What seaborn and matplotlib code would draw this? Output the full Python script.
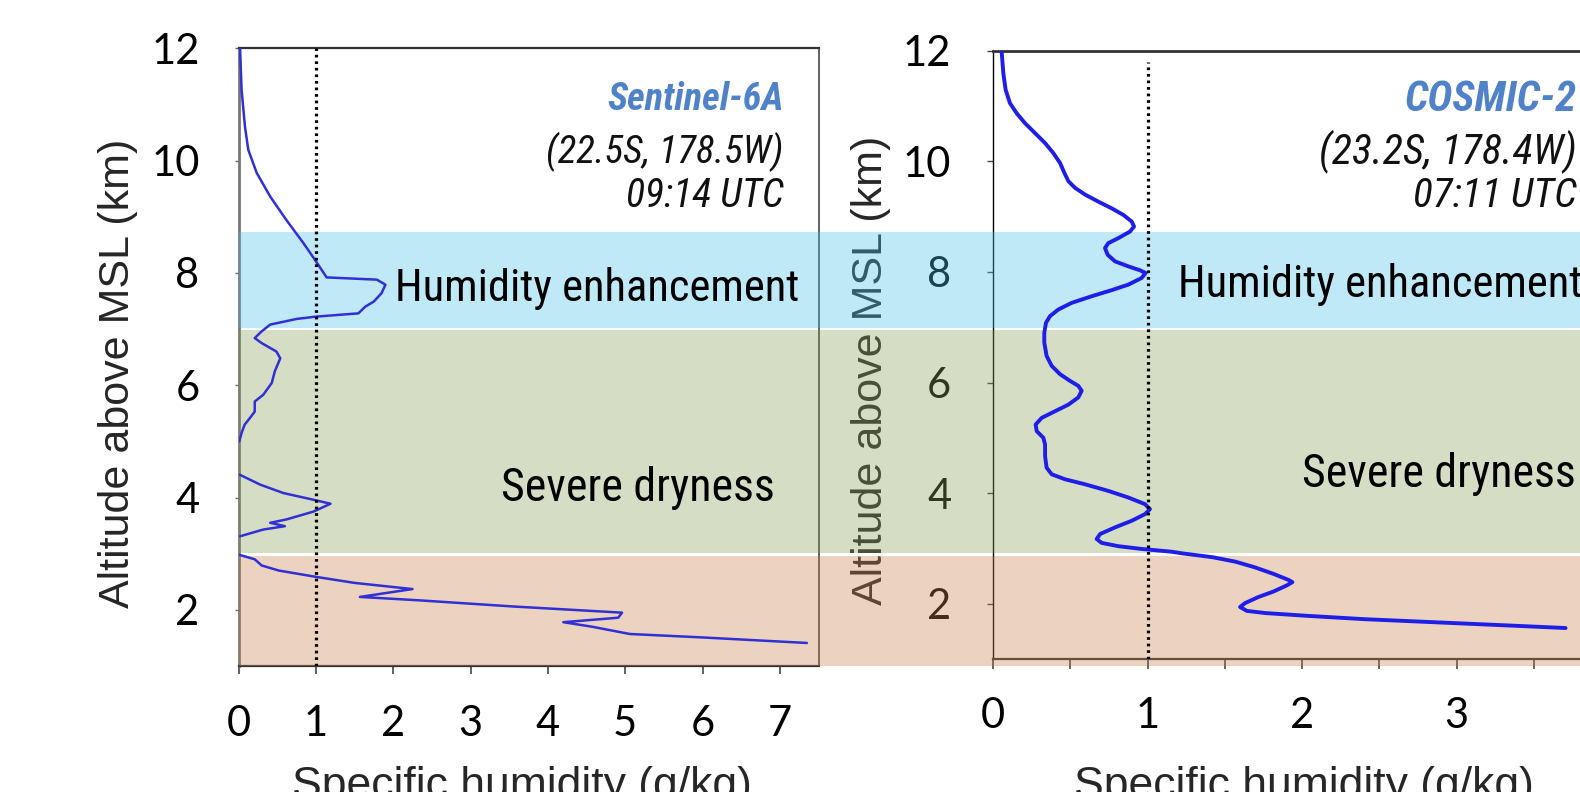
import matplotlib
matplotlib.use("Agg")
import matplotlib.pyplot as plt
import seaborn as sns
import pandas as pd
import numpy as np
from matplotlib import font_manager

# ---------------- data ----------------
# Sentinel-6A profile (specific humidity g/kg vs altitude km); NaN = gap in profile
left_q = [0.02, 0.04, 0.084, 0.127, 0.236, 0.41, 0.62, 0.84, 0.99, 1.14, 1.79, 1.90, 1.85, 1.75,
          1.64, 1.55, 0.99, 0.75, 0.41, 0.30, 0.21, 0.30, 0.49, 0.54, 0.47, 0.43, 0.32, 0.21, 0.21,
          0.15, 0.08, 0.04, 0.01, np.nan,
          0.01, 0.28, 0.58, 0.97, 1.19, 0.97, 0.62, 0.41, 0.60, 0.32, 0.02, np.nan,
          0.01, 0.21, 0.30, 0.52, 0.99, 1.50, 2.25, 1.57, 2.33, 3.55, 4.96, 4.91, 4.20, 4.57,
          5.06, 5.98, 7.35]
left_z = [12.0, 11.26, 10.6, 10.19, 9.78, 9.36, 8.94, 8.53, 8.23, 7.92, 7.88, 7.79, 7.64, 7.49,
          7.40, 7.28, 7.22, 7.18, 7.08, 6.96, 6.84, 6.75, 6.60, 6.48, 6.25, 6.04, 5.83, 5.71, 5.53,
          5.42, 5.30, 5.15, 5.00, np.nan,
          4.41, 4.23, 4.08, 3.96, 3.89, 3.75, 3.61, 3.55, 3.49, 3.43, 3.31, np.nan,
          2.98, 2.90, 2.79, 2.70, 2.59, 2.48, 2.37, 2.23, 2.17, 2.06, 1.95, 1.86, 1.78, 1.70,
          1.57, 1.51, 1.41]

# COSMIC-2 profile
right_q = [0.056, 0.067, 0.082, 0.110, 0.153, 0.207, 0.272, 0.337, 0.390, 0.434, 0.462, 0.488,
           0.531, 0.595, 0.682, 0.768, 0.844, 0.898, 0.913, 0.887, 0.811, 0.746, 0.725, 0.742,
           0.790, 0.876, 0.951, 0.988, 0.962, 0.876, 0.768, 0.639, 0.509, 0.423, 0.369, 0.343,
           0.332, 0.332, 0.347, 0.380, 0.434, 0.498, 0.552, 0.574, 0.552, 0.488, 0.401, 0.315,
           0.276, 0.283, 0.326, 0.337, 0.337, 0.347, 0.380, 0.466, 0.595, 0.746, 0.876, 0.984,
           1.016, 0.984, 0.898, 0.790, 0.693, 0.671, 0.703, 0.811, 0.962, 1.156, 1.226, 1.422,
           1.569, 1.692, 1.815, 1.913, 1.938, 1.901, 1.815, 1.717, 1.631, 1.599, 1.643, 1.766,
           2.036, 2.405, 2.896, 3.387, 3.706]
right_z = [11.98, 11.59, 11.29, 11.05, 10.87, 10.69, 10.51, 10.33, 10.15, 9.97, 9.79, 9.64,
           9.52, 9.40, 9.27, 9.15, 9.03, 8.91, 8.82, 8.73, 8.61, 8.52, 8.43, 8.31,
           8.19, 8.10, 8.03, 7.98, 7.89, 7.77, 7.67, 7.56, 7.44, 7.32, 7.20, 7.08,
           6.90, 6.72, 6.48, 6.30, 6.15, 6.03, 5.94, 5.85, 5.73, 5.60, 5.48, 5.36,
           5.24, 5.12, 5.00, 4.88, 4.67, 4.46, 4.34, 4.25, 4.16, 4.04, 3.92, 3.80,
           3.71, 3.62, 3.50, 3.38, 3.26, 3.17, 3.10, 3.04, 2.99, 2.94, 2.91, 2.84,
           2.76, 2.66, 2.54, 2.43, 2.39, 2.33, 2.22, 2.12, 2.01, 1.94, 1.87, 1.83,
           1.78, 1.72, 1.66, 1.60, 1.56]

threshold_q = 1.0

band_names = ["Humidity enhancement", "Severe dryness", "Boundary layer"]
band_bottom = [7.02, 3.01, 1.0]
band_top = [8.73, 6.99, 2.95]
band_colors = ["#4bc0eb", "#87a156", "#c9814b"]

left_xticks = [0, 1, 2, 3, 4, 5, 6, 7]
right_xticks = [0, 1, 2, 3]
yticks = [2, 4, 6, 8, 10, 12]

left_title = ["Sentinel-6A", "(22.5S, 178.5W)", "09:14 UTC"]
right_title = ["COSMIC-2", "(23.2S, 178.4W)", "07:11 UTC"]
ylabel = "Altitude above MSL (km)"
xlabel = "Specific humidity (g/kg)"

# ---------------- style ----------------
sns.set_theme(style="white")
plt.rcParams["font.family"] = ["Liberation Sans", "DejaVu Sans"]

ttf = font_manager.fontManager.ttflist
names = {f.name for f in ttf}
TICKF = "Lato" if "Lato" in names else "DejaVu Sans"


def pick_narrow():
    prefs = ["Liberation Sans Narrow", "Arial Narrow", "Roboto Condensed", "Open Sans Condensed"]
    for p in prefs:
        if p in names:
            return p, "normal"
    cond = ("condensed", "semi-condensed", "extra-condensed", "ultra-condensed")
    for fam in ["Liberation Sans", "Roboto", "Open Sans", "Noto Sans", "DejaVu Sans"]:
        for f in ttf:
            if f.name == fam and (str(f.stretch) in cond or
                                  (isinstance(f.stretch, (int, float)) and f.stretch < 500)):
                return fam, "condensed"
    return "Liberation Sans", "normal"


NARROW, NSTRETCH = pick_narrow()

W, H = 1580, 792
fig = plt.figure(figsize=(W / 100, H / 100), dpi=100)


def frac(x0, y_top, x1, y_bot):
    return [x0 / W, 1 - y_bot / H, (x1 - x0) / W, (y_bot - y_top) / H]


posL = frac(238.5, 48.3, 818.5, 666)
posR = frac(993, 50.7, 1611, 659)
posB = frac(238.5, 48.3, 1600, 666)


def to_df(q, z):
    q = np.asarray(q, float)
    z = np.asarray(z, float)
    seg = np.cumsum(np.isnan(q))
    df = pd.DataFrame({"q": q, "z": z, "seg": seg})
    return df.dropna()


# ---------------- base axes (ticks, spines) ----------------
axL = fig.add_axes(posL, zorder=0)
axR = fig.add_axes(posR, zorder=0)
for ax, xt, xmax in [(axL, left_xticks, 7.5), (axR, right_xticks, 4.0)]:
    ax.set_xlim(0, xmax)
    ax.set_ylim(1, 12)
    ax.set_facecolor("none")
    ax.set_xticks(xt, [str(t) for t in xt], fontfamily=TICKF, fontsize=30, color="black")
    ax.set_yticks(yticks, [str(t) for t in yticks], fontfamily=TICKF, fontsize=30, color="black")

axL.tick_params(axis="x", bottom=True, direction="out", length=6, width=1.2, color="#444", pad=22)
axL.tick_params(axis="y", left=True, direction="out", length=3, width=1.0, color="#666", pad=25)
for s, (c, lw) in {"left": ("#777777", 2.0), "top": ("#333333", 1.6),
                   "right": ("#444444", 1.2), "bottom": ("#333333", 1.6)}.items():
    axL.spines[s].set_color(c)
    axL.spines[s].set_linewidth(lw)

axR.set_xticks(np.arange(0.5, 4.0, 1.0), minor=True)
axR.tick_params(axis="x", which="both", bottom=True, direction="out", length=7, width=1.2,
                color="#444", pad=20)
axR.tick_params(axis="y", left=True, direction="out", length=4, width=1.0, color="#444", pad=26)
axR.spines["right"].set_visible(False)
axR.spines["left"].set_color("black"); axR.spines["left"].set_linewidth(1.0)
axR.spines["top"].set_color("#333333"); axR.spines["top"].set_linewidth(2.0)
axR.spines["bottom"].set_color("#333333"); axR.spines["bottom"].set_linewidth(1.6)

fig.text(118 / W, 1 - 373 / H, ylabel, rotation=90, ha="center", va="center", fontsize=31, zorder=0.2)
fig.text(871 / W, 1 - 370 / H, ylabel, rotation=90, ha="center", va="center", fontsize=31, zorder=0.2)
fig.text(521.5 / W, 1 - 798 / H, xlabel, ha="center", va="baseline", fontsize=32, zorder=0.2)
fig.text(1303.5 / W, 1 - 798 / H, xlabel, ha="center", va="baseline", fontsize=32, zorder=0.2)

# ---------------- translucent bands ----------------
axB = fig.add_axes(posB, zorder=1)
axB.set_xlim(0, 1)
axB.set_ylim(1, 12)
axB.axis("off")
for b, t, c in zip(band_bottom, band_top, band_colors):
    axB.axhspan(b, t, color=c, alpha=0.35, lw=0)

# ---------------- overlay (curves + annotations) ----------------
ovL = fig.add_axes(posL, zorder=2)
ovR = fig.add_axes(posR, zorder=2)
for ov, ax in [(ovL, axL), (ovR, axR)]:
    ov.set_xlim(ax.get_xlim())
    ov.set_ylim(ax.get_ylim())
    ov.axis("off")

sns.lineplot(data=to_df(left_q, left_z), x="q", y="z", units="seg", estimator=None, sort=False,
             color="#3030d4", lw=1.8, ax=ovL, legend=False)
sns.lineplot(data=to_df(right_q, right_z), x="q", y="z", units="seg", estimator=None, sort=False,
             color="#1e1ee8", lw=2.8, ax=ovR, legend=False)
for ov in (ovL, ovR):
    ov.set_xlabel("")
    ov.set_ylabel("")
    for ln in ov.lines:
        ln.set_solid_joinstyle("round")
        ln.set_solid_capstyle("round")

ovL.plot([threshold_q, threshold_q], [1, 12], color="black", lw=2.3, ls=(0, (0.85, 1.2)))
ovR.plot([threshold_q, threshold_q], [1, 11.8], color="black", lw=2.3, ls=(0, (0.85, 1.2)))

# annotations; (text, target width px)
fit = []
nk = dict(family=NARROW, stretch=NSTRETCH)
for ov, lines, x, w3 in [(ovL, left_title, 7.05, (177, 238, 158)),
                         (ovR, right_title, 3.78, (172, 258, 164))]:
    t1 = ov.text(x, 10.91, lines[0], ha="right", va="baseline", fontsize=25, fontweight="bold",
                 fontstyle="italic", color="#4f82c8", **nk)
    t2 = ov.text(x, 9.96, lines[1], ha="right", va="baseline", fontsize=25, fontstyle="italic",
                 color="#111111", **nk)
    t3 = ov.text(x, 9.17, lines[2], ha="right", va="baseline", fontsize=25, fontstyle="italic",
                 color="#111111", **nk)
    fit += [(t1, w3[0]), (t2, w3[1]), (t3, w3[2])]

h1 = ovL.text(2.03, 7.50, band_names[0], ha="left", va="baseline", fontsize=32, color="black", **nk)
h2 = ovR.text(1.20, 7.55, band_names[0], ha="left", va="baseline", fontsize=32, color="black", **nk)
s1 = ovL.text(3.39, 3.93, band_names[1], ha="left", va="baseline", fontsize=32, color="black", **nk)
s2 = ovR.text(2.00, 4.11, band_names[1], ha="left", va="baseline", fontsize=32, color="black", **nk)
fit += [(h1, 405), (h2, 405), (s1, 274), (s2, 274)]

# size the annotation text to the widths seen in the reference
fig.canvas.draw()
r = fig.canvas.get_renderer()
for t, target in fit:
    w = t.get_window_extent(r).width
    if w > 0:
        t.set_fontsize(t.get_fontsize() * target / w)

fig.savefig("out.png", dpi=100)
